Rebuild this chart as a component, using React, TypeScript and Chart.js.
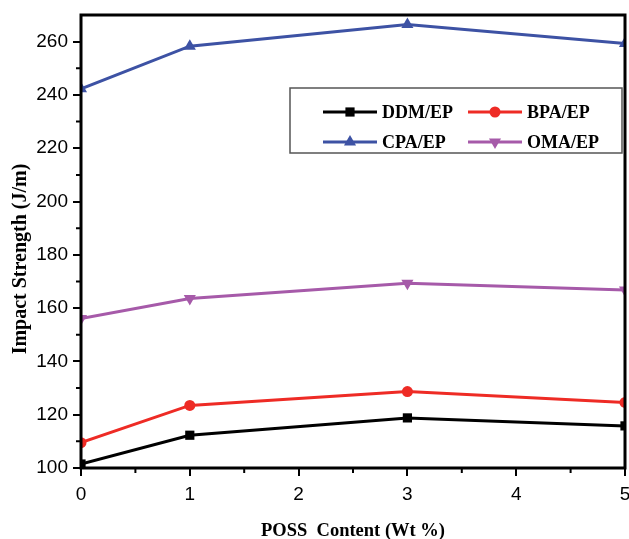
import React, { useEffect, useRef } from 'react';
import { Chart, registerables } from 'chart.js';

Chart.register(...registerables);

const xValues = [0, 1, 3, 5];
const ddmValues = [101.5, 112.3, 118.8, 115.8];
const bpaValues = [109.5, 123.5, 128.7, 124.6];
const cpaValues = [242.3, 258.3, 266.4, 259.3];
const omaValues = [156.1, 163.6, 169.3, 166.8];
const seriesNames = ['DDM/EP', 'BPA/EP', 'CPA/EP', 'OMA/EP'];
const yTickValues = [100, 120, 140, 160, 180, 200, 220, 240, 260];
const yMinorValues = [110, 130, 150, 170, 190, 210, 230, 250];
const xTickValues = [0, 1, 2, 3, 4, 5];
const xMinorValues = [0.5, 1.5, 2.5, 3.5, 4.5];
const xTitle = 'POSS  Content (Wt %)';
const yTitle = 'Impact Strength (J/m)';

const colors = ['#000000', '#ee2b25', '#3d52a4', '#a65aa9'];
const styles = ['rect', 'circle', 'triangle', 'triangle'];
const rotations = [0, 0, 0, 180];
const radii = [6.5, 5.5, 7, 7];

function drawMarker(ctx: CanvasRenderingContext2D, style: string, rotation: number, x: number, y: number, r: number) {
  ctx.beginPath();
  if (style === 'rect') {
    const s = Math.SQRT1_2 * r;
    ctx.rect(x - s, y - s, 2 * s, 2 * s);
  } else if (style === 'circle') {
    ctx.arc(x, y, r, 0, Math.PI * 2);
  } else {
    let rad = (rotation * Math.PI) / 180;
    ctx.moveTo(x + Math.sin(rad) * r, y - Math.cos(rad) * r);
    rad += (2 * Math.PI) / 3;
    ctx.lineTo(x + Math.sin(rad) * r, y - Math.cos(rad) * r);
    rad += (2 * Math.PI) / 3;
    ctx.lineTo(x + Math.sin(rad) * r, y - Math.cos(rad) * r);
    ctx.closePath();
  }
  ctx.fill();
}

const framePlugin = {
  id: 'framePlugin',
  afterDraw(chart: any) {
    const { ctx, chartArea: a, scales } = chart;
    ctx.save();
    ctx.strokeStyle = '#000';
    ctx.lineWidth = 3;
    ctx.strokeRect(a.left, a.top, a.right - a.left, a.bottom - a.top);
    ctx.lineWidth = 2;
    ctx.beginPath();
    yMinorValues.forEach((v) => {
      const y = scales.y.getPixelForValue(v);
      ctx.moveTo(a.left, y);
      ctx.lineTo(a.left - 5, y);
    });
    xMinorValues.forEach((v) => {
      const x = scales.x.getPixelForValue(v);
      ctx.moveTo(x, a.bottom);
      ctx.lineTo(x, a.bottom + 5);
    });
    ctx.stroke();

    // legend
    const bx = a.right - 335;
    const by = a.top + 73;
    ctx.lineWidth = 1.5;
    ctx.strokeStyle = '#555';
    ctx.strokeRect(bx, by, 332, 65);
    ctx.font = 'bold 18px "Liberation Serif"';
    ctx.textBaseline = 'middle';
    ctx.textAlign = 'left';
    chart.data.datasets.forEach((ds: any, i: number) => {
      const col = i % 2;
      const row = Math.floor(i / 2);
      const lx0 = bx + (col === 0 ? 33 : 178);
      const lx1 = lx0 + 54;
      const y = by + (row === 0 ? 24 : 54);
      ctx.strokeStyle = colors[i];
      ctx.fillStyle = colors[i];
      ctx.lineWidth = 3;
      ctx.beginPath();
      ctx.moveTo(lx0, y);
      ctx.lineTo(lx1, y);
      ctx.stroke();
      drawMarker(ctx, styles[i], rotations[i], (lx0 + lx1) / 2, y, radii[i]);
      ctx.fillStyle = '#000';
      ctx.fillText(ds.label, lx1 + 5, y + 1);
    });
    ctx.restore();
  },
};

export default function App() {
  const ref = useRef<HTMLCanvasElement>(null);
  useEffect(() => {
    if (!ref.current) return;
    const seriesValues = [ddmValues, bpaValues, cpaValues, omaValues];
    const chart = new Chart(ref.current, {
      type: 'line',
      data: {
        datasets: seriesValues.map((vals, i) => ({
          label: seriesNames[i],
          data: xValues.map((x, j) => ({ x, y: vals[j] })),
          borderColor: colors[i],
          backgroundColor: colors[i],
          borderWidth: 3,
          pointStyle: styles[i] as any,
          pointRotation: rotations[i],
          pointRadius: radii[i],
          pointBorderWidth: 0,
          tension: 0,
          clip: 0,
        })),
      },
      options: {
        responsive: false,
        animation: false,
        devicePixelRatio: 1,
        layout: { autoPadding: false, padding: { top: 15, right: 4, left: 0, bottom: 0 } },
        plugins: { legend: { display: false }, tooltip: { enabled: false } },
        scales: {
          x: {
            type: 'linear',
            min: 0,
            max: 5,
            afterBuildTicks: (s: any) => {
              s.ticks = xTickValues.map((v) => ({ value: v }));
            },
            afterFit: (s: any) => {
              s.height = 71;
              s.paddingLeft = 0;
              s.paddingRight = 0;
            },
            grid: { drawOnChartArea: false, color: '#000', lineWidth: 2, tickLength: 8 },
            border: { display: false },
            ticks: { color: '#000', padding: 7, font: { family: '"Liberation Sans"', size: 19 }, maxRotation: 0 },
            title: {
              display: true,
              text: xTitle,
              color: '#000',
              font: { family: '"Liberation Serif"', size: 18.5, weight: 'bold' },
              padding: { top: 0, bottom: -3 },
            },
          },
          y: {
            type: 'linear',
            min: 100,
            max: 270,
            afterBuildTicks: (s: any) => {
              s.ticks = yTickValues.map((v) => ({ value: v }));
            },
            afterFit: (s: any) => {
              s.width = 81;
              s.paddingTop = 0;
              s.paddingBottom = 0;
            },
            grid: { drawOnChartArea: false, color: '#000', lineWidth: 2, tickLength: 8 },
            border: { display: false },
            ticks: { color: '#000', padding: 5, font: { family: '"Liberation Sans"', size: 19 } },
            title: {
              display: true,
              text: yTitle + '       ',
              color: '#000',
              font: { family: '"Liberation Serif"', size: 20, weight: 'bold' },
              padding: { top: 9, bottom: 0 },
            },
          },
        },
      },
      plugins: [framePlugin],
    });
    return () => chart.destroy();
  }, []);
  return (
    <div style={{ position: 'fixed', left: 0, top: 0, width: 629, height: 539, background: '#fff' }}>
      <canvas ref={ref} width={629} height={539} />
    </div>
  );
}
